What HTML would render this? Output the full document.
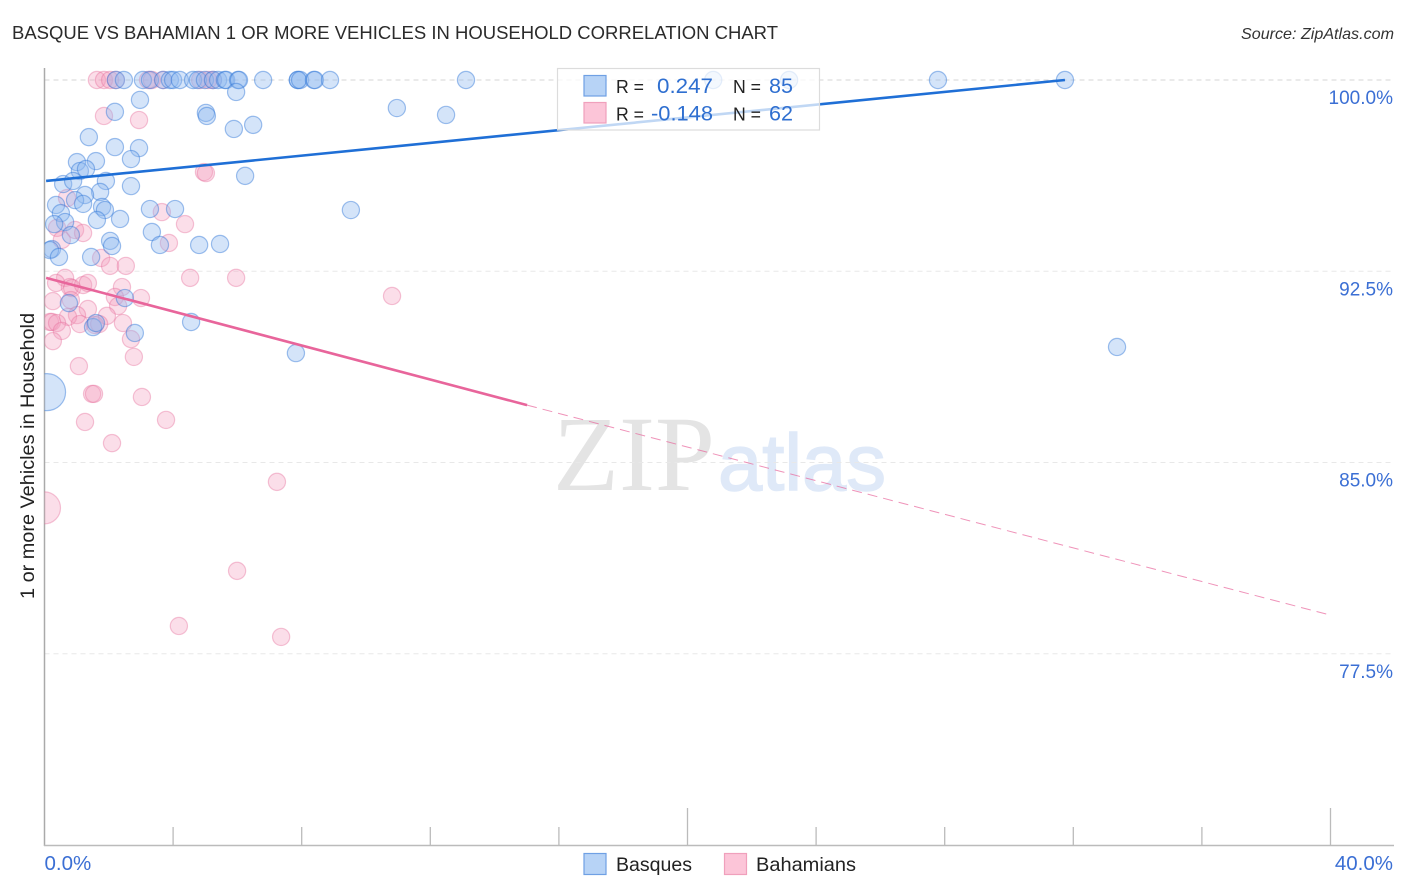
<!DOCTYPE html>
<html lang="en">
<head>
<meta charset="utf-8">
<title>Basque vs Bahamian 1 or more Vehicles in Household Correlation Chart</title>
<style>
html,body{margin:0;padding:0;background:#fff;width:1406px;height:892px;overflow:hidden}
svg{display:block;font-family:"Liberation Sans",sans-serif}
</style>
</head>
<body>
<svg id="chart" width="1406" height="892" viewBox="0 0 1406 892" xmlns="http://www.w3.org/2000/svg">
  <defs><clipPath id="plot-clip"><rect x="44.5" y="60" width="1350" height="786"/></clipPath></defs>
  <rect width="1406" height="892" fill="#fff"/>
  <text x="12" y="39" font-size="18.5" fill="#2b2b2b" textLength="766" lengthAdjust="spacingAndGlyphs">BASQUE VS BAHAMIAN 1 OR MORE VEHICLES IN HOUSEHOLD CORRELATION CHART</text>
  <text x="1241" y="39" font-size="16" font-style="italic" fill="#333" textLength="153" lengthAdjust="spacingAndGlyphs">Source: ZipAtlas.com</text>
  <g>
    <text x="553" y="490" font-family="'Liberation Serif',serif" font-size="107" fill="#e4e4e4" textLength="162" lengthAdjust="spacingAndGlyphs">ZIP</text>
    <text x="718" y="490" font-size="80" fill="#dfe9f8" stroke="#dfe9f8" stroke-width="1.5" textLength="168" lengthAdjust="spacingAndGlyphs">atlas</text>
  </g>
  <g id="grid"></g>
  <g id="axes">
    <line x1="44.5" y1="68" x2="44.5" y2="846" stroke="#aaa" stroke-width="1.5"/>
    <line x1="44" y1="845.5" x2="1394" y2="845.5" stroke="#bbb" stroke-width="1.5"/>
  </g>
  <g id="x-ticks"></g>
  <g id="y-labels"></g>
  <g id="x-labels"></g>
  <text transform="translate(34,456) rotate(-90)" font-size="19" fill="#222" text-anchor="middle" textLength="286" lengthAdjust="spacingAndGlyphs">1 or more Vehicles in Household</text>
  <g id="points" clip-path="url(#plot-clip)"></g>
  <g id="trends"></g>
  <g>
    <rect x="557.5" y="68.5" width="262" height="61.5" fill="#fff" fill-opacity="0.72" stroke="#dcdcdc" stroke-width="1.2"/>
    <rect x="584" y="75.5" width="22" height="20.5" fill="#b7d3f6" stroke="#6fa0e4" stroke-width="1.2"/>
    <rect x="584" y="102.5" width="22" height="20.5" fill="#fcc5d8" stroke="#f0a0bc" stroke-width="1.2"/>
    <text x="616" y="93" font-size="18" fill="#222" textLength="28" lengthAdjust="spacingAndGlyphs">R =</text>
    <text x="657" y="93" font-size="21" fill="#2f6fd0" textLength="56" lengthAdjust="spacingAndGlyphs">0.247</text>
    <text x="733" y="93" font-size="18" fill="#222" textLength="28" lengthAdjust="spacingAndGlyphs">N =</text>
    <text x="769" y="93" font-size="21" fill="#2f6fd0" textLength="24" lengthAdjust="spacingAndGlyphs">85</text>
    <text x="616" y="120.5" font-size="18" fill="#222" textLength="28" lengthAdjust="spacingAndGlyphs">R =</text>
    <text x="651" y="120.5" font-size="21" fill="#2f6fd0" textLength="62" lengthAdjust="spacingAndGlyphs">-0.148</text>
    <text x="733" y="120.5" font-size="18" fill="#222" textLength="28" lengthAdjust="spacingAndGlyphs">N =</text>
    <text x="769" y="120.5" font-size="21" fill="#2f6fd0" textLength="24" lengthAdjust="spacingAndGlyphs">62</text>
  </g>
  <g>
    <rect x="584" y="853.5" width="22" height="21" fill="#b7d3f6" stroke="#6fa0e4" stroke-width="1.2"/>
    <text x="616" y="871" font-size="19.5" fill="#222" textLength="76" lengthAdjust="spacingAndGlyphs">Basques</text>
    <rect x="724.5" y="853.5" width="22" height="21" fill="#fcc5d8" stroke="#f0a0bc" stroke-width="1.2"/>
    <text x="756" y="871" font-size="19.5" fill="#222" textLength="100" lengthAdjust="spacingAndGlyphs">Bahamians</text>
  </g>
</svg>
<script>
const yTickValues = [100, 92.5, 85, 77.5];
const yTickLabels = ["100.0%", "92.5%", "85.0%", "77.5%"];
const xTickValues = [4, 8, 12, 16, 20, 24, 28, 32, 36, 40];
const xMajorTicks = [20, 40];
const xEndValues = [0, 40];
const xEndLabels = ["0.0%", "40.0%"];

const basqueX = [2.22,2.47,3.06,3.28,3.69,3.90,4.00,4.21,4.62,4.77,4.99,5.24,5.40,5.61,5.65,6.02,6.05,6.80,7.88,7.88,7.95,8.38,8.41,8.88,13.11,20.80,23.16,27.79,31.74,
  2.97,2.19,5.02,5.05,5.89,6.49,1.38,2.19,2.94,2.69,1.01,1.60,1.10,1.29,6.24,0.58,0.89,1.91,2.69,1.73,1.26,0.95,1.20,0.36,0.51,1.79,1.88,3.28,4.06,9.53,0.64,0.30,1.63,2.35,3.34,0.82,3.59,4.81,5.46,2.04,2.10,0.23,0.17,0.45,1.45,0.76,2.50,1.51,1.60,2.81,4.56,7.82,33.36,10.96,12.49,5.96];
const basqueY = [100,100,100,100,100,100,100,100,100,100,100,100,100,100,100,100,100,100,100,100,100,100,100,100,100,100,100,100,100,
  99.22,98.75,98.71,98.59,98.08,98.24,97.76,97.37,97.33,96.90,96.78,96.82,96.43,96.51,96.24,95.92,96.04,96.04,95.84,95.61,95.49,95.29,95.14,95.10,94.78,95.02,94.90,94.94,94.94,94.90,94.43,94.35,94.51,94.55,94.04,93.92,93.53,93.53,93.57,93.69,93.49,93.37,93.33,93.06,93.06,91.25,91.45,90.31,90.47,90.08,90.51,89.29,89.53,98.90,98.63,99.53];
const basqueLargeX = [0.08];
const basqueLargeY = [87.76];

const bahamianX = [1.63,1.85,2.04,2.22,3.22,3.34,3.69,4.84,5.09,5.24,
  1.85,2.94,4.96,5.02,0.70,3.65,4.37,0.95,1.20,0.39,0.54,3.87,1.76,2.04,2.53,4.53,5.96,0.64,0.36,0.79,0.86,1.20,1.35,2.41,2.19,0.82,0.26,3.00,10.81,2.29,1.35,1.01,0.73,1.94,0.17,0.23,0.39,1.10,1.57,1.70,2.44,0.54,0.26,2.69,2.78,1.07,1.48,1.54,3.03,1.26,3.78,2.10,7.23,5.99,4.18,7.36];
const bahamianY = [100,100,100,100,100,100,100,100,100,100,
  98.59,98.43,96.39,96.35,95.37,94.82,94.35,94.12,94.00,94.20,93.73,93.61,93.02,92.71,92.71,92.24,92.24,92.24,92.04,91.88,91.84,91.96,92.04,91.88,91.49,91.37,91.33,91.45,91.53,91.14,91.02,90.78,90.71,90.75,90.51,90.51,90.47,90.43,90.39,90.43,90.47,90.16,89.76,89.84,89.14,88.78,87.69,87.69,87.57,86.59,86.67,85.76,84.24,80.75,78.59,78.16];
const bahamianLargeX = [0];
const bahamianLargeY = [83.22];

const basqueTrendX = [0.05, 31.74];
const basqueTrendY = [96.04, 100];
const bahamianTrendX = [0.05, 15.01];
const bahamianTrendY = [92.24, 87.25];
const bahamianForecastX = [15.01, 39.98];
const bahamianForecastY = [87.25, 79.02];

function xScale(v) { return 44.5 + v * 32.15; }
function yScale(v) { return 80 + (100 - v) * 25.5; }

const NS = "http://www.w3.org/2000/svg";
function make(tag, parent, attrs) {
  const el = document.createElementNS(NS, tag);
  for (const k in attrs) el.setAttribute(k, attrs[k]);
  parent.appendChild(el);
  return el;
}

const gridG = document.getElementById("grid");
const yLabelG = document.getElementById("y-labels");
yTickValues.forEach(function (v, i) {
  const ln = make("line", gridG, {x1: 44.5, x2: 1394, y1: yScale(v), y2: yScale(v), stroke: i === 0 ? "#d6d6d6" : "#e8e8e8", "stroke-width": 1, "stroke-dasharray": "5 4"});
  
  
  const t = make("text", yLabelG, {x: 1393, y: yScale(v) + 24, "font-size": 19, fill: "#3b6fd4", "text-anchor": "end"});
  t.textContent = yTickLabels[i];
  
  
});

const xTickG = document.getElementById("x-ticks");
xTickValues.forEach(function (v) {
  const major = xMajorTicks.indexOf(v) >= 0;
  const tk = make("line", xTickG, {x1: xScale(v), x2: xScale(v), y1: 846, y2: major ? 808 : 827, stroke: "#bbb", "stroke-width": 1.3});
  
  
});

const xLabelG = document.getElementById("x-labels");
xEndValues.forEach(function (v, i) {
  const t = make("text", xLabelG, {x: i === 0 ? xScale(v) : 1393, y: 870, "font-size": 20.5, fill: "#3b6fd4", "text-anchor": i === 0 ? "start" : "end"});
  t.textContent = xEndLabels[i];
  
  
});

const pointsG = document.getElementById("points");
const BLUE_STYLE = {fill: "#8db8f0", "fill-opacity": 0.38, stroke: "#2f75d8", "stroke-opacity": 0.45, "stroke-width": 1.2};
const PINK_STYLE = {fill: "#f29cbb", "fill-opacity": 0.33, stroke: "#e66f9b", "stroke-opacity": 0.4, "stroke-width": 1.2};

function drawBasque(vx, vy, r) {
  vx.forEach(function (x, i) {
    const c = make("circle", pointsG, Object.assign({cx: xScale(x), cy: yScale(vy[i]), r: r}, BLUE_STYLE));
    
    
  });
}
function drawBahamian(vx, vy, r) {
  vx.forEach(function (x, i) {
    const c = make("circle", pointsG, Object.assign({cx: xScale(x), cy: yScale(vy[i]), r: r}, PINK_STYLE));
    
    
  });
}
drawBahamian(bahamianX, bahamianY, 8.6);
drawBahamian(bahamianLargeX, bahamianLargeY, 16);
drawBasque(basqueX, basqueY, 8.6);
drawBasque(basqueLargeX, basqueLargeY, 18.5);

const trendG = document.getElementById("trends");
const blueLine = make("line", trendG, {x1: xScale(basqueTrendX[0]), y1: yScale(basqueTrendY[0]), x2: xScale(basqueTrendX[1]), y2: yScale(basqueTrendY[1]), stroke: "#1f6fd6", "stroke-width": 2.6});


const pinkLine = make("line", trendG, {x1: xScale(bahamianTrendX[0]), y1: yScale(bahamianTrendY[0]), x2: xScale(bahamianTrendX[1]), y2: yScale(bahamianTrendY[1]), stroke: "#e8659b", "stroke-width": 2.6});


const pinkDash = make("line", trendG, {x1: xScale(bahamianForecastX[0]), y1: yScale(bahamianForecastY[0]), x2: xScale(bahamianForecastX[1]), y2: yScale(bahamianForecastY[1]), stroke: "#e8659b", "stroke-width": 1, "stroke-dasharray": "10 6", "stroke-opacity": 0.7});


</script>
</body>
</html>
